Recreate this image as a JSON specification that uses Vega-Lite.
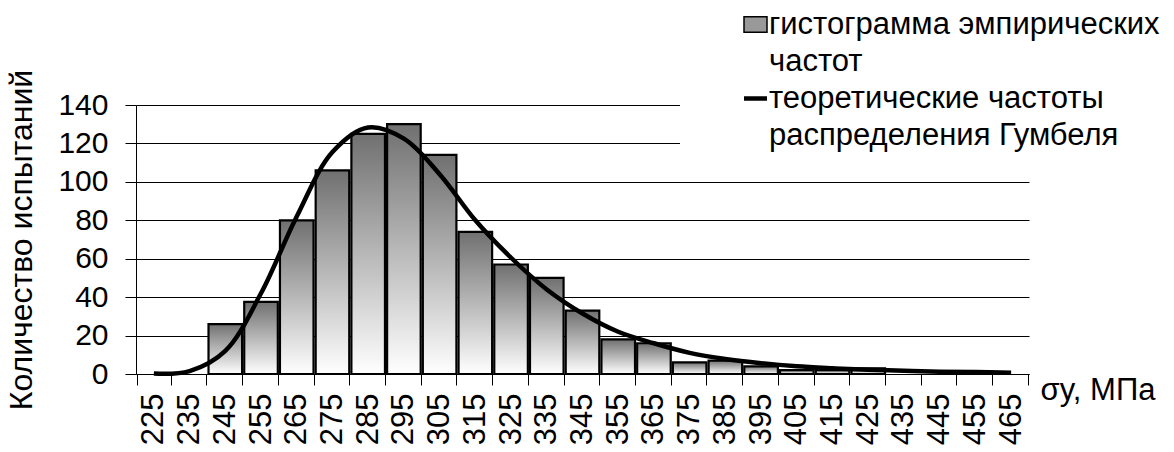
{
  "$schema": "https://vega.github.io/schema/vega-lite/v6.json",
  "width": 893,
  "height": 269,
  "autosize": {"type": "none"},
  "padding": {"left": 136, "top": 105, "right": 145, "bottom": 78},
  "background": "white",
  "config": {"view": {"stroke": null}, "font": "Liberation Sans"},
  "data": {"values": [
    {"sigma": 225, "count": 0, "theory": 0.2},
    {"sigma": 235, "count": 0, "theory": 1.5},
    {"sigma": 245, "count": 26, "theory": 12},
    {"sigma": 255, "count": 37.5, "theory": 42},
    {"sigma": 265, "count": 80, "theory": 82},
    {"sigma": 275, "count": 106, "theory": 115.5},
    {"sigma": 285, "count": 125, "theory": 128.3},
    {"sigma": 295, "count": 130, "theory": 122.5},
    {"sigma": 305, "count": 114, "theory": 104},
    {"sigma": 315, "count": 74, "theory": 80},
    {"sigma": 325, "count": 57, "theory": 60.5},
    {"sigma": 335, "count": 50, "theory": 44},
    {"sigma": 345, "count": 33, "theory": 31.5},
    {"sigma": 355, "count": 18, "theory": 22},
    {"sigma": 365, "count": 16, "theory": 16},
    {"sigma": 375, "count": 6, "theory": 11},
    {"sigma": 385, "count": 7, "theory": 7.8},
    {"sigma": 395, "count": 4, "theory": 5.6},
    {"sigma": 405, "count": 2, "theory": 4},
    {"sigma": 415, "count": 2, "theory": 3},
    {"sigma": 425, "count": 3, "theory": 2.2},
    {"sigma": 435, "count": 0, "theory": 1.7},
    {"sigma": 445, "count": 0, "theory": 1.2},
    {"sigma": 455, "count": 0, "theory": 1},
    {"sigma": 465, "count": 0, "theory": 0.7}
  ]},
  "encoding": {
    "x": {
      "field": "sigma",
      "type": "ordinal",
      "scale": {"paddingInner": 0.06, "paddingOuter": 0.03},
      "axis": {
        "title": "σy, МПа",
        "titleX": 904,
        "titleY": 16,
        "titleAlign": "left",
        "titleBaseline": "middle",
        "titleAngle": 0,
        "titleFontSize": 31,
        "titleFontWeight": "normal",
        "titleColor": "black",
        "labelAngle": -90,
        "labelFontSize": 31,
        "labelColor": "black",
        "labelPadding": 8,
        "labelOverlap": false,
        "tickSize": 11,
        "tickBand": "extent",
        "tickColor": "black",
        "domainColor": "black",
        "grid": false
      }
    }
  },
  "layer": [
    {
      "transform": [{"filter": "datum.count > 0"}],
      "mark": {"type": "bar"},
      "encoding": {
        "y": {
          "field": "count",
          "type": "quantitative",
          "scale": {"domain": [0, 140], "nice": false},
          "axis": {
            "title": "Количество испытаний",
            "titleFontSize": 32,
            "titleFontWeight": "normal",
            "titleColor": "black",
            "titlePadding": 19,
            "labelFontSize": 30,
            "labelColor": "black",
            "labelPadding": 17,
            "tickSize": 11,
            "tickColor": "black",
            "domainColor": "black",
            "tickCount": 7,
            "grid": true,
            "gridColor": "black",
            "gridWidth": 1
          }
        },
        "fill": {
          "datum": "гистограмма эмпирических|частот",
          "type": "nominal",
          "scale": {"range": ["#999999"]},
          "legend": {
            "orient": "none",
            "legendX": 544,
            "legendY": -96,
            "title": null,
            "padding": 0,
            "fillColor": "white",
            "symbolType": "M-1,-0.67H1V0.67H-1Z",
            "symbolSize": 529,
            "symbolOffset": 60,
            "symbolStrokeColor": "black",
            "symbolStrokeWidth": 1.5,
            "labelFontSize": 31,
            "labelColor": "black",
            "labelLimit": 600,
            "labelOffset": -2,
            "labelExpr": "split(datum.label, '|')",
            "encode": {
              "symbols": {"update": {"fill": {"value": {"gradient": "linear", "x1": 0, "y1": 0, "x2": 0, "y2": 1, "stops": [{"offset": 0, "color": "#707070"}, {"offset": 1, "color": "#ffffff"}]}}, "stroke": {"value": "black"}}},
              "labels": {"update": {"lineHeight": {"value": 37}}}
            }
          }
        }
      }
    },
    {
      "transform": [{"filter": "datum.count > 0"}],
      "mark": {
        "type": "bar",
        "stroke": "black",
        "strokeWidth": 2.2,
        "fill": {"gradient": "linear", "x1": 0, "y1": 0, "x2": 0, "y2": 1, "stops": [{"offset": 0, "color": "#707070"}, {"offset": 1, "color": "#ffffff"}]}
      },
      "encoding": {
        "y": {
          "field": "count",
          "type": "quantitative",
          "scale": {"domain": [0, 140], "nice": false},
          "axis": {
            "title": "Количество испытаний",
            "titleFontSize": 32,
            "titleFontWeight": "normal",
            "titleColor": "black",
            "titlePadding": 19,
            "labelFontSize": 30,
            "labelColor": "black",
            "labelPadding": 17,
            "tickSize": 11,
            "tickColor": "black",
            "domainColor": "black",
            "tickCount": 7,
            "grid": true,
            "gridColor": "black",
            "gridWidth": 1
          }
        }
      }
    },
    {
      "mark": {"type": "line", "interpolate": "catmull-rom", "strokeWidth": 4.5},
      "encoding": {
        "y": {
          "field": "theory",
          "type": "quantitative",
          "scale": {"domain": [0, 140], "nice": false},
          "axis": {
            "title": "Количество испытаний",
            "titleFontSize": 32,
            "titleFontWeight": "normal",
            "titleColor": "black",
            "titlePadding": 19,
            "labelFontSize": 30,
            "labelColor": "black",
            "labelPadding": 17,
            "tickSize": 11,
            "tickColor": "black",
            "domainColor": "black",
            "tickCount": 7,
            "grid": true,
            "gridColor": "black",
            "gridWidth": 1
          }
        },
        "stroke": {
          "datum": "теоретические частоты|распределения Гумбеля",
          "type": "nominal",
          "scale": {"range": ["black"]},
          "legend": {
            "orient": "none",
            "legendX": 544,
            "legendY": -22,
            "title": null,
            "padding": 0,
            "fillColor": "white",
            "symbolType": "stroke",
            "symbolSize": 529,
            "symbolOffset": 60,
            "symbolStrokeWidth": 4.5,
            "labelFontSize": 31,
            "labelColor": "black",
            "labelLimit": 600,
            "labelOffset": -2,
            "labelExpr": "split(datum.label, '|')",
            "encode": {
              "labels": {"update": {"lineHeight": {"value": 37}}}
            }
          }
        }
      }
    }
  ]
}
